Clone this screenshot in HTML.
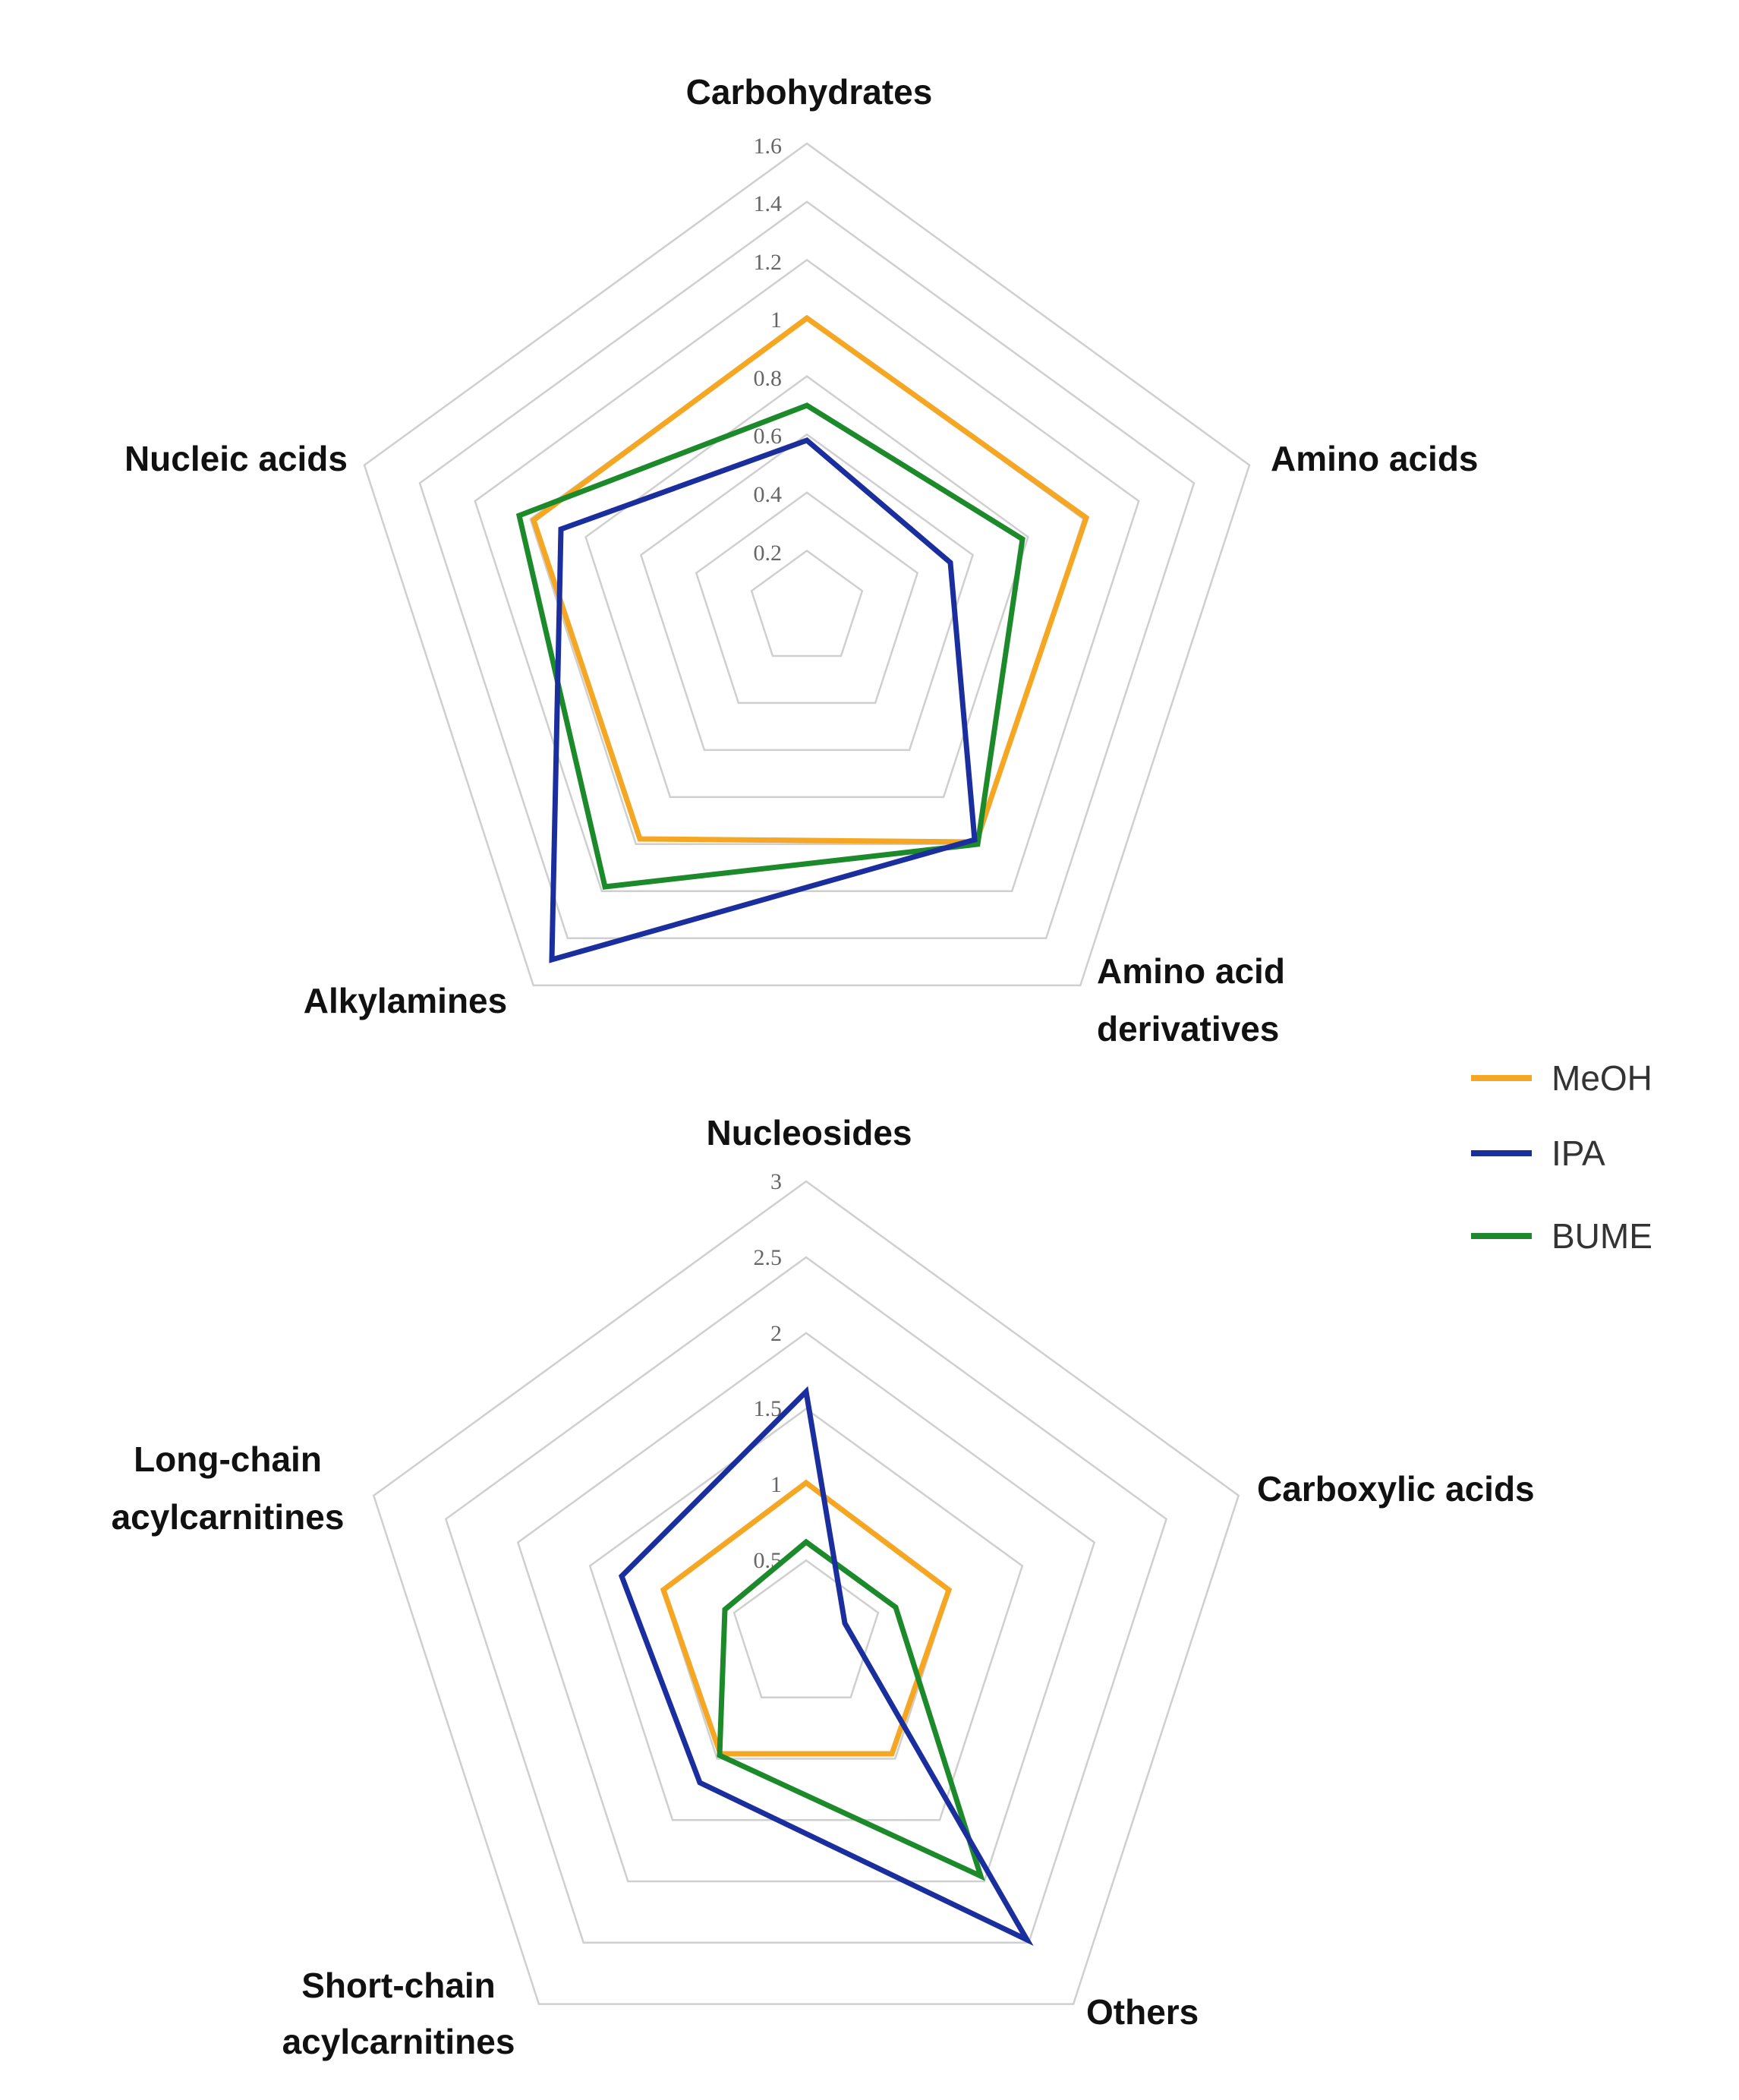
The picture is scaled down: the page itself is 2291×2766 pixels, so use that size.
<!DOCTYPE html>
<html><head><meta charset="utf-8"><style>
html,body{margin:0;padding:0;background:#fff}
svg{display:block}
.lab{font-family:"Liberation Sans",sans-serif;font-weight:bold;font-size:46px;fill:#111}
.tk{font-family:"Liberation Serif",serif;font-size:30px;fill:#666}
.lg{font-family:"Liberation Sans",sans-serif;font-size:46px;fill:#333}
.s{fill:none;stroke-width:7;stroke-linejoin:miter}
</style></head><body>
<svg width="2291" height="2766" viewBox="0 0 2291 2766" xmlns="http://www.w3.org/2000/svg">
<g fill="none" stroke="#cfcfcf" stroke-width="2.5">
<polygon points="1063,725.4 1135.9,778.3 1108,864 1018,864 990.1,778.3"/>
<polygon points="1063,648.8 1208.7,754.7 1153.1,925.9 972.9,925.9 917.3,754.7"/>
<polygon points="1063,572.2 1281.6,731 1198.1,987.9 927.9,987.9 844.4,731"/>
<polygon points="1063,495.6 1354.4,707.3 1243.1,1049.9 882.9,1049.9 771.6,707.3"/>
<polygon points="1063,419 1427.3,683.6 1288.2,1111.8 837.8,1111.8 698.7,683.6"/>
<polygon points="1063,342.4 1500.2,660 1333.2,1173.8 792.8,1173.8 625.8,660"/>
<polygon points="1063,265.8 1573,636.3 1378.2,1235.7 747.8,1235.7 553,636.3"/>
<polygon points="1063,189 1646,612.6 1423.3,1297.9 702.7,1297.9 480,612.6"/>
</g>
<g class="tk" text-anchor="end">
<text x="1030" y="202">1.6</text><text x="1030" y="278">1.4</text><text x="1030" y="355">1.2</text>
<text x="1030" y="431">1</text><text x="1030" y="508">0.8</text><text x="1030" y="584">0.6</text>
<text x="1030" y="661">0.4</text><text x="1030" y="738">0.2</text>
</g>
<polygon class="s" stroke="#F5A623" points="1063,419 1431,682 1286,1109 843,1105 703,685"/>
<polygon class="s" stroke="#1C8A2A" points="1063,534 1347,710 1288,1112 797,1168 684,679"/>
<polygon class="s" stroke="#1A2E9E" points="1063,580 1252,741 1284,1106 727,1264 739,697"/>
<g class="lab">
<text x="1066" y="137" text-anchor="middle">Carbohydrates</text>
<text x="1674" y="620">Amino acids</text>
<text x="1445" y="1295">Amino acid</text>
<text x="1445" y="1371">derivatives</text>
<text x="534" y="1334" text-anchor="middle">Alkylamines</text>
<text x="458" y="620" text-anchor="end">Nucleic acids</text>
</g>
<g fill="none" stroke="#cfcfcf" stroke-width="2.5">
<polygon points="1062,2055.2 1156.9,2124.2 1120.7,2235.7 1003.3,2235.7 967.1,2124.2"/>
<polygon points="1062,1955.4 1251.8,2093.3 1179.3,2316.5 944.7,2316.5 872.2,2093.3"/>
<polygon points="1062,1855.6 1346.8,2062.5 1238,2397.2 886,2397.2 777.2,2062.5"/>
<polygon points="1062,1755.8 1441.7,2031.6 1296.7,2478 827.3,2478 682.3,2031.6"/>
<polygon points="1062,1656 1536.6,2000.8 1355.3,2558.7 768.7,2558.7 587.4,2000.8"/>
<polygon points="1062,1556 1631.7,1969.9 1414.1,2639.6 709.9,2639.6 492.3,1969.9"/>
</g>
<g class="tk" text-anchor="end">
<text x="1030" y="1566">3</text><text x="1030" y="1666">2.5</text><text x="1030" y="1766">2</text>
<text x="1030" y="1865">1.5</text><text x="1030" y="1965">1</text><text x="1030" y="2065">0.5</text>
</g>
<polygon class="s" stroke="#F5A623" points="1062,1953 1250,2094 1175,2310 949,2310 874,2094"/>
<polygon class="s" stroke="#1C8A2A" points="1062,2031 1180,2117 1292,2471 948,2312 955,2120"/>
<polygon class="s" stroke="#1A2E9E" points="1062,1833 1113,2138 1353,2555 922,2348 819,2076"/>
<g class="lab">
<text x="1066" y="1508" text-anchor="middle">Nucleosides</text>
<text x="1656" y="1977">Carboxylic acids</text>
<text x="300" y="1938" text-anchor="middle">Long-chain</text>
<text x="300" y="2014" text-anchor="middle">acylcarnitines</text>
<text x="525" y="2631" text-anchor="middle">Short-chain</text>
<text x="525" y="2705" text-anchor="middle">acylcarnitines</text>
<text x="1431" y="2666">Others</text>
</g>
<line x1="1938" y1="1420" x2="2018" y2="1420" stroke="#F5A623" stroke-width="8"/>
<line x1="1938" y1="1519" x2="2018" y2="1519" stroke="#1A2E9E" stroke-width="8"/>
<line x1="1938" y1="1628" x2="2018" y2="1628" stroke="#1C8A2A" stroke-width="8"/>
<g class="lg">
<text x="2044" y="1436">MeOH</text>
<text x="2044" y="1535">IPA</text>
<text x="2044" y="1644">BUME</text>
</g>
</svg>
</body></html>
